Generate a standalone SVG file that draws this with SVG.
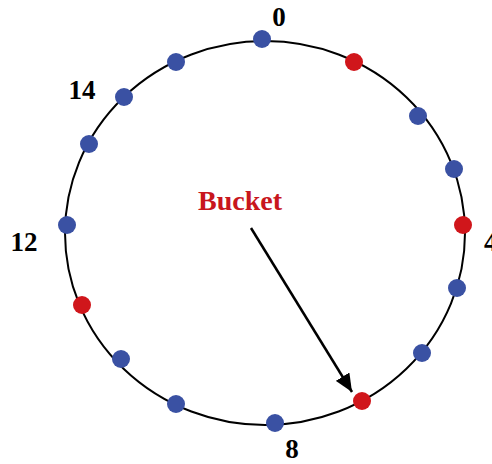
<svg xmlns="http://www.w3.org/2000/svg" width="492" height="464" viewBox="0 0 492 464">
<style>
.ring{fill:none;stroke:#000;stroke-width:2}
.b{fill:#3A51A3}
.r{fill:#D0161B}
.lbl{font-family:"Liberation Serif","Times New Roman",serif;font-weight:bold;font-size:27px;fill:#000;text-anchor:middle}
.bk{font-family:"Liberation Serif","Times New Roman",serif;font-weight:bold;font-size:28px;fill:#C8161D;text-anchor:middle}
.conn{stroke:#000;stroke-width:2.5;fill:none}
</style>
<defs>
<marker id="ah" markerWidth="8" markerHeight="8" refX="7" refY="4" orient="auto" markerUnits="userSpaceOnUse" viewBox="0 0 8 8">
<path d="M0,0 L8,4 L0,8 Z" fill="#000"/>
</marker>
<marker id="ah2" markerWidth="18" markerHeight="16" refX="18" refY="8" orient="auto" markerUnits="userSpaceOnUse" viewBox="0 0 18 16">
<path d="M0,0 L18,8 L0,16 Z" fill="#000"/>
</marker>
</defs>
<g id="ring"><ellipse class="ring" cx="265" cy="233" rx="200" ry="192"/></g>
<g id="slots">
<g id="s0"><circle class="b" cx="262" cy="39" r="9"/></g>
<g id="s1"><circle class="r" cx="354" cy="62" r="9"/></g>
<g id="s2"><circle class="b" cx="418" cy="116" r="9"/></g>
<g id="s3"><circle class="b" cx="454" cy="169" r="9"/></g>
<g id="s4"><circle class="r" cx="463" cy="225" r="9"/></g>
<g id="s5"><circle class="b" cx="457" cy="288" r="9"/></g>
<g id="s6"><circle class="b" cx="422" cy="353" r="9"/></g>
<g id="s7"><circle class="r" cx="362" cy="401" r="9"/></g>
<g id="s8"><circle class="b" cx="275" cy="423" r="9"/></g>
<g id="s9"><circle class="b" cx="176" cy="404" r="9"/></g>
<g id="s10"><circle class="b" cx="121" cy="359" r="9"/></g>
<g id="s11"><circle class="r" cx="82" cy="305" r="9"/></g>
<g id="s12"><circle class="b" cx="67" cy="225" r="9"/></g>
<g id="s13"><circle class="b" cx="89" cy="144" r="9"/></g>
<g id="s14"><circle class="b" cx="124" cy="97" r="9"/></g>
<g id="s15"><circle class="b" cx="176" cy="62" r="9"/></g>
</g>
<g id="labels">
<text class="lbl" x="279" y="26">0</text>
<text class="lbl" x="82" y="99">14</text>
<text class="lbl" x="24" y="251">12</text>
<text class="lbl" x="484" y="251" style="text-anchor:start">4</text>
<text class="lbl" x="292" y="458">8</text>
</g>
<g id="bucket"><text class="bk" x="240" y="210">Bucket</text></g>
<g id="connectors">
<line class="conn" x1="251" y1="228" x2="352" y2="392" marker-end="url(#ah2)"/>
</g>
</svg>
